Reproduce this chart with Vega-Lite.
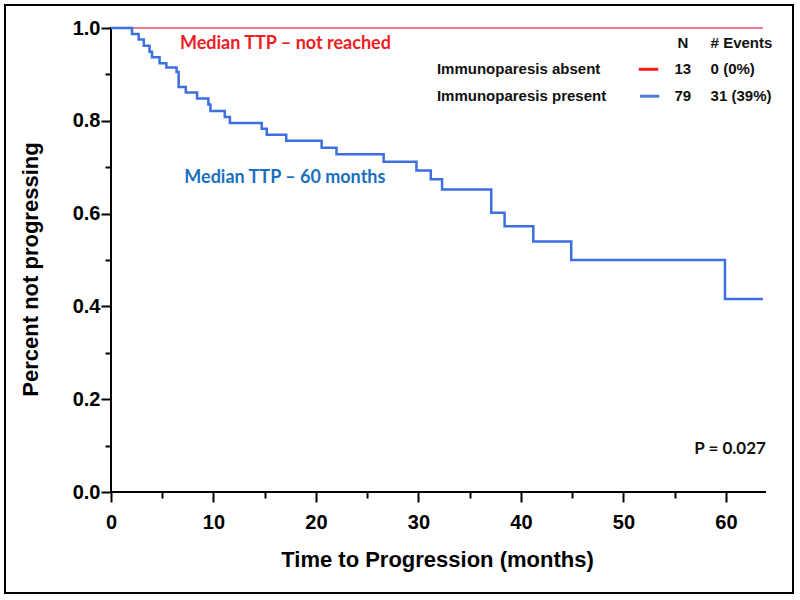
{
  "$schema": "https://vega.github.io/schema/vega-lite/v6.json",
  "width": 800,
  "height": 600,
  "autosize": {"type": "fit", "contains": "padding"},
  "padding": {"left": 5, "right": 7, "top": 5, "bottom": 7},
  "background": "white",
  "config": {"view": {"stroke": "black", "strokeWidth": 2}, "font": "Liberation Sans"},
  "datasets": {
    "curves": [
      {"g": "absent", "t": 0, "s": 1.0},
      {"g": "absent", "t": 63.6, "s": 1.0},
      {"g": "present", "t": 0, "s": 1.0},
      {"g": "present", "t": 2.05, "s": 0.987},
      {"g": "present", "t": 2.7, "s": 0.975},
      {"g": "present", "t": 3.2, "s": 0.962},
      {"g": "present", "t": 3.76, "s": 0.949},
      {"g": "present", "t": 4.0, "s": 0.937},
      {"g": "present", "t": 4.74, "s": 0.924},
      {"g": "present", "t": 5.4, "s": 0.915},
      {"g": "present", "t": 6.4, "s": 0.905},
      {"g": "present", "t": 6.6, "s": 0.873},
      {"g": "present", "t": 7.3, "s": 0.861},
      {"g": "present", "t": 8.4, "s": 0.848},
      {"g": "present", "t": 9.5, "s": 0.835},
      {"g": "present", "t": 9.7, "s": 0.821},
      {"g": "present", "t": 11.1, "s": 0.808},
      {"g": "present", "t": 11.6, "s": 0.795},
      {"g": "present", "t": 14.7, "s": 0.783},
      {"g": "present", "t": 15.2, "s": 0.77},
      {"g": "present", "t": 17.1, "s": 0.757},
      {"g": "present", "t": 20.55, "s": 0.742},
      {"g": "present", "t": 22.0, "s": 0.728},
      {"g": "present", "t": 26.6, "s": 0.712},
      {"g": "present", "t": 29.8, "s": 0.693},
      {"g": "present", "t": 31.2, "s": 0.674},
      {"g": "present", "t": 32.3, "s": 0.652},
      {"g": "present", "t": 37.1, "s": 0.602},
      {"g": "present", "t": 38.4, "s": 0.573},
      {"g": "present", "t": 41.2, "s": 0.54},
      {"g": "present", "t": 44.9, "s": 0.5},
      {"g": "present", "t": 59.9, "s": 0.416},
      {"g": "present", "t": 63.6, "s": 0.416}
    ],
    "axislines": [
      {"t": 0, "s": 0, "t2": 63.8, "s2": 0},
      {"t": 0, "s": 0, "t2": 0, "s2": 1}
    ],
    "notes": [
      {"kind": "red", "t": 6.73, "s": 0.965, "label": "Median TTP – not reached"},
      {"kind": "blue", "t": 7.15, "s": 0.677, "label": "Median TTP – 60 months"},
      {"kind": "p", "t": 56.9, "s": 0.093, "label": "P = 0.027"}
    ],
    "legendtext": [
      {"col": "name", "t": 31.8, "s": 0.911, "label": "Immunoparesis absent"},
      {"col": "name", "t": 31.8, "s": 0.853, "label": "Immunoparesis present"},
      {"col": "nhead", "t": 55.8, "s": 0.968, "label": "N"},
      {"col": "n", "t": 56.6, "s": 0.911, "label": "13"},
      {"col": "n", "t": 56.6, "s": 0.853, "label": "79"},
      {"col": "ev", "t": 58.5, "s": 0.968, "label": "# Events"},
      {"col": "ev", "t": 58.5, "s": 0.911, "label": "0 (0%)"},
      {"col": "ev", "t": 58.5, "s": 0.853, "label": "31 (39%)"}
    ],
    "legendlines": [
      {"g": "absent", "t": 51.5, "t2": 53.4, "s": 0.911},
      {"g": "present", "t": 51.6, "t2": 53.5, "s": 0.853}
    ]
  },
  "encoding": {
    "x": {
      "field": "t",
      "type": "quantitative",
      "title": "Time to Progression (months)",
      "scale": {"domain": [-10.341, 66.537], "nice": false, "zero": false},
      "axis": {
        "values": [0, 5, 10, 15, 20, 25, 30, 35, 40, 45, 50, 55, 60],
        "format": "d",
        "labelExpr": "datum.value % 10 === 0 ? datum.label : ''",
        "offset": -101,
        "domain": false,
        "grid": false,
        "tickColor": "black",
        "tickWidth": 2,
        "tickSize": {"condition": {"test": "datum.value % 10 === 0", "value": 10}, "value": 6},
        "labelFont": "Liberation Sans Narrow, Liberation Sans",
        "labelFontWeight": "bold",
        "labelFontSize": 20,
        "labelColor": "black",
        "labelPadding": 10,
        "labelFlush": false,
        "labelOverlap": false,
        "labelBound": false,
        "titleFont": "Liberation Sans",
        "titleFontWeight": "bold",
        "titleFontSize": 22,
        "titleColor": "black",
        "titlePadding": 17,
        "titleX": 432
      }
    },
    "y": {
      "field": "s",
      "type": "quantitative",
      "title": "Percent not progressing",
      "scale": {"domain": [-0.21767, 1.04957], "nice": false, "zero": false},
      "axis": {
        "values": [0, 0.1, 0.2, 0.3, 0.4, 0.5, 0.6, 0.7, 0.8, 0.9, 1.0],
        "format": ".1f",
        "labelExpr": "round(datum.value * 10) % 2 === 0 ? datum.label : ''",
        "offset": -106,
        "domain": false,
        "grid": false,
        "tickColor": "black",
        "tickWidth": 2,
        "tickSize": {"condition": {"test": "round(datum.value * 10) % 2 === 0", "value": 10}, "value": 6},
        "labelFont": "Liberation Sans Narrow, Liberation Sans",
        "labelFontWeight": "bold",
        "labelFontSize": 20,
        "labelColor": "black",
        "labelPadding": 1,
        "labelFlush": false,
        "labelOverlap": false,
        "labelBound": false,
        "titleFont": "Liberation Sans",
        "titleFontWeight": "bold",
        "titleFontSize": 22,
        "titleColor": "black",
        "titlePadding": 30,
        "titleY": 264
      }
    }
  },
  "layer": [
    {
      "data": {"name": "axislines"},
      "mark": {"type": "rule", "color": "black", "strokeWidth": 2, "strokeCap": "square"},
      "encoding": {"x2": {"field": "t2"}, "y2": {"field": "s2"}}
    },
    {
      "data": {"name": "curves"},
      "transform": [{"filter": "datum.g === 'absent'"}],
      "mark": {"type": "line", "interpolate": "step-after", "color": "#e8506a", "strokeWidth": 1.3}
    },
    {
      "data": {"name": "curves"},
      "transform": [{"filter": "datum.g === 'present'"}],
      "mark": {"type": "line", "interpolate": "step-after", "color": "#3d6fe0", "strokeWidth": 2.5}
    },
    {
      "data": {"name": "notes"},
      "transform": [{"filter": "datum.kind === 'red'"}],
      "mark": {"type": "text", "align": "left", "baseline": "middle", "font": "Lato", "fontWeight": "bold", "fontSize": 18, "color": "#ee1c25"},
      "encoding": {"text": {"field": "label"}}
    },
    {
      "data": {"name": "notes"},
      "transform": [{"filter": "datum.kind === 'blue'"}],
      "mark": {"type": "text", "align": "left", "baseline": "middle", "font": "Lato", "fontWeight": "bold", "fontSize": 18, "color": "#1b6fc0"},
      "encoding": {"text": {"field": "label"}}
    },
    {
      "data": {"name": "notes"},
      "transform": [{"filter": "datum.kind === 'p'"}],
      "mark": {"type": "text", "align": "left", "baseline": "middle", "font": "Lato", "fontWeight": "bold", "fontSize": 17, "color": "#111111"},
      "encoding": {"text": {"field": "label"}}
    },
    {
      "data": {"name": "legendtext"},
      "transform": [{"filter": "datum.col === 'name' || datum.col === 'ev'"}],
      "mark": {"type": "text", "align": "left", "baseline": "middle", "font": "Liberation Sans", "fontWeight": "bold", "fontSize": 15, "color": "#111111"},
      "encoding": {"text": {"field": "label"}}
    },
    {
      "data": {"name": "legendtext"},
      "transform": [{"filter": "datum.col === 'nhead'"}],
      "mark": {"type": "text", "align": "center", "baseline": "middle", "font": "Liberation Sans", "fontWeight": "bold", "fontSize": 15, "color": "#111111"},
      "encoding": {"text": {"field": "label"}}
    },
    {
      "data": {"name": "legendtext"},
      "transform": [{"filter": "datum.col === 'n'"}],
      "mark": {"type": "text", "align": "right", "baseline": "middle", "font": "Liberation Sans", "fontWeight": "bold", "fontSize": 15, "color": "#111111"},
      "encoding": {"text": {"field": "label"}}
    },
    {
      "data": {"name": "legendlines"},
      "mark": {"type": "rule", "strokeWidth": 3},
      "encoding": {
        "x2": {"field": "t2"},
        "color": {"field": "g", "type": "nominal", "scale": {"domain": ["absent", "present"], "range": ["#ff1a1a", "#4f7fd0"]}, "legend": null}
      }
    }
  ]
}
